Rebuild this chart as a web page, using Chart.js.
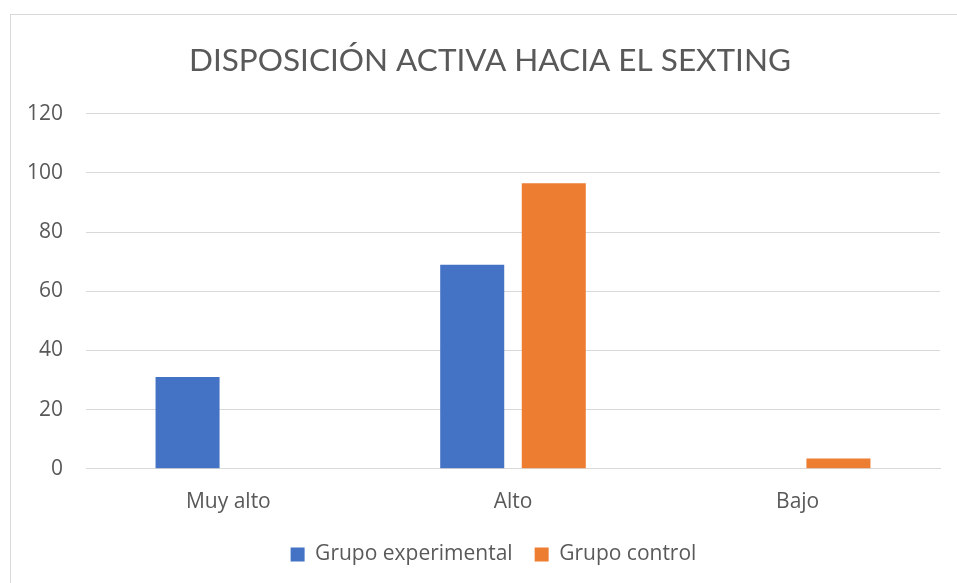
<!DOCTYPE html>
<html>
<head>
<meta charset="utf-8">
<script src="https://cdn.jsdelivr.net/npm/chart.js@4"></script>
<style>
  html, body { margin: 0; padding: 0; background: #fff; overflow: hidden; }
  #wrap { position: relative; width: 957px; height: 583px; }
  #frame { position: absolute; left: 10px; top: 14px; width: 960px; height: 600px; border: 1px solid #d9d9d9; box-sizing: border-box; }
  canvas { position: absolute; left: 0; top: 0; }
</style>
</head>
<body>
<div id="wrap">
  <div id="frame"></div>
  <canvas id="c" width="957" height="583"></canvas>
</div>
<script>
const titleText = 'DISPOSICIÓN ACTIVA HACIA EL SEXTING';
const categories = ['Muy alto', 'Alto', 'Bajo'];
const experimental = [31, 69, 0];
const control = [0, 96.5, 3.5];
const seriesNames = ['Grupo experimental', 'Grupo control'];
const yMin = 0, yMax = 120, yStep = 20;

const txt = '#595959';
const famTitle = 'Lato, "Open Sans", sans-serif';
const fam = '"Open Sans", Lato, sans-serif';

// centre title and legend on the outer frame rather than the canvas
const shiftBlocks = {
  id: 'shiftBlocks',
  afterLayout(chart) {
    if (chart.legend) { chart.legend.left += 23.5; chart.legend.right += 23.5; }
    if (chart.titleBlock) { chart.titleBlock.left += 20; chart.titleBlock.right += 20; }
  }
};

new Chart(document.getElementById('c'), {
  type: 'bar',
  data: {
    labels: categories,
    datasets: [
      { label: seriesNames[0], data: experimental, backgroundColor: '#4472C4', categoryPercentage: 0.573, barPercentage: 0.785 },
      { label: seriesNames[1], data: control, backgroundColor: '#ED7D31', categoryPercentage: 0.573, barPercentage: 0.785 }
    ]
  },
  plugins: [shiftBlocks],
  options: {
    responsive: false,
    animation: false,
    layout: { padding: { left: 0, right: 17, top: 0, bottom: 8 } },
    plugins: {
      title: {
        display: true, text: titleText, color: txt,
        font: { family: famTitle, size: 31.5, weight: 'normal' },
        padding: { top: 42, bottom: 34 }
      },
      legend: {
        position: 'bottom',
        labels: { color: txt, font: { family: fam, size: 21 }, boxWidth: 14, boxHeight: 14, padding: 22 }
      },
      tooltip: { enabled: false }
    },
    scales: {
      x: {
        grid: { display: false },
        border: { display: true, color: '#d9d9d9' },
        afterFit: (s) => { s.height -= 6; },
        ticks: { color: txt, font: { family: fam, size: 21 }, padding: 13 }
      },
      y: {
        min: yMin, max: yMax,
        afterFit: (s) => { s.width = 86; },
        ticks: { stepSize: yStep, color: txt, font: { family: fam, size: 21 }, padding: 23 },
        grid: { color: '#d9d9d9', drawTicks: false },
        border: { display: false }
      }
    }
  }
});
</script>
</body>
</html>
